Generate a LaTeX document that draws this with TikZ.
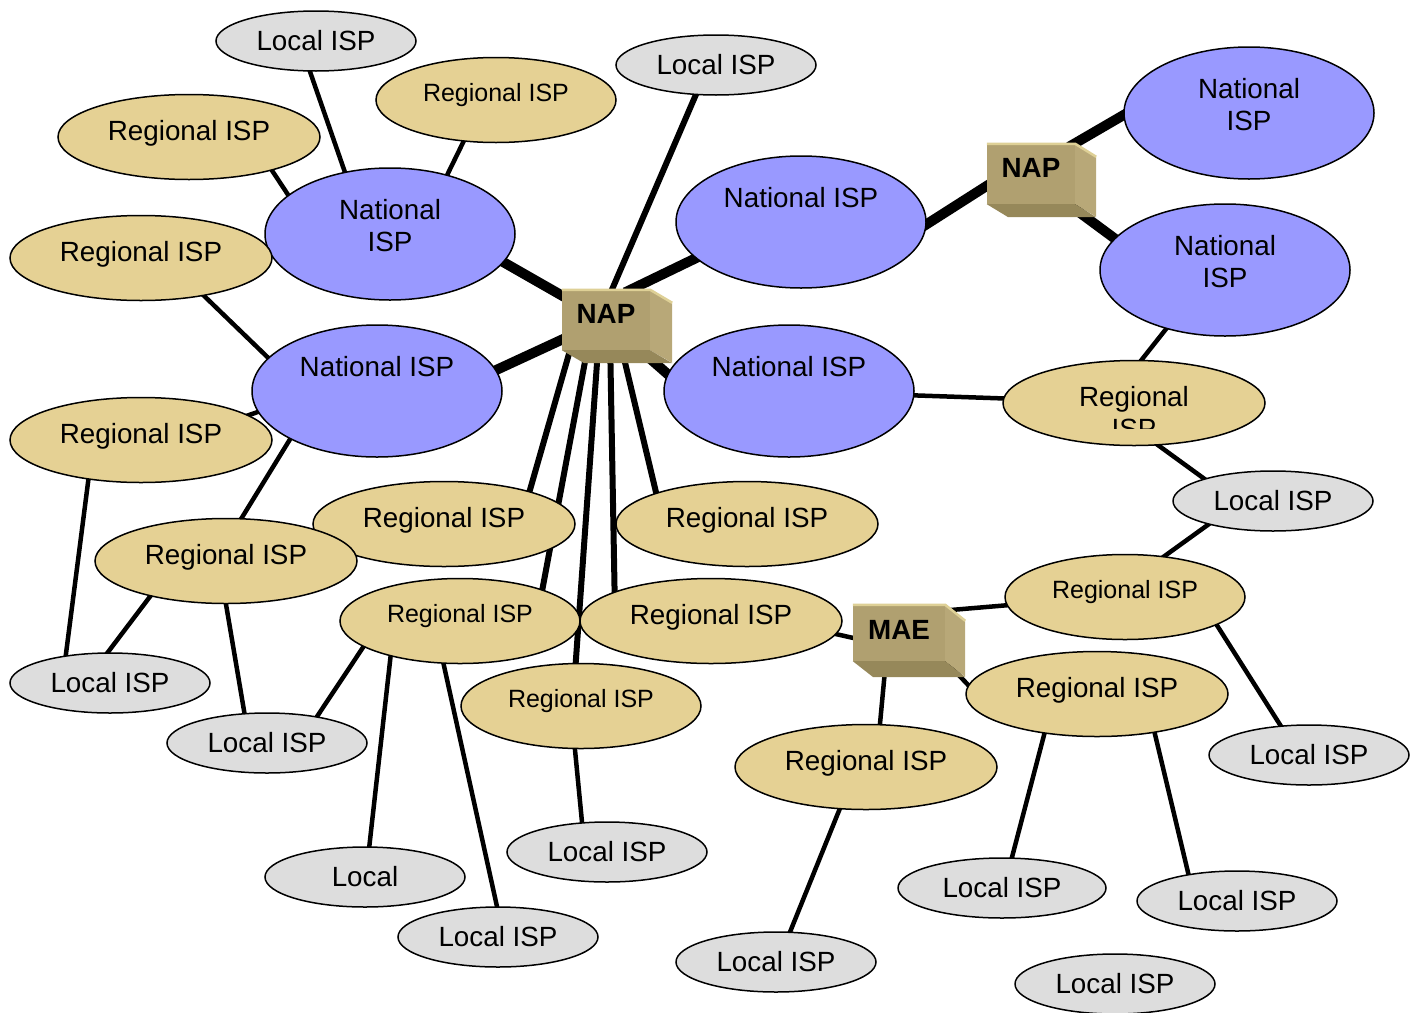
\documentclass[tikz,border=0pt]{standalone}
\usepackage{fontspec}
\setmainfont{Liberation Sans}
\usetikzlibrary{shapes.geometric,positioning,calc}
\usepackage{xcolor}

\definecolor{natblue}{RGB}{153,153,255}
\definecolor{regtan}{RGB}{229,209,148}
\definecolor{locgrey}{RGB}{221,221,221}
\definecolor{hubfront}{RGB}{176,160,112}
\definecolor{hubside}{RGB}{184,168,120}
\definecolor{hubbottom}{RGB}{150,136,90}
\definecolor{hubtop}{RGB}{222,208,150}

\pgfdeclarelayer{background}
\pgfsetlayers{background,main}

% raise a label without changing its box
\newcommand{\lift}[2]{\raisebox{#1}[\height][\depth]{#2}}

\begin{document}
\begin{tikzpicture}[x=1pt,y=-1pt,
    isp/.style={ellipse,draw=black,line width=1.5pt,inner sep=0pt,font=\fontsize{27.8}{32}\selectfont},
    natisp/.style={isp,fill=natblue,minimum width=250pt,minimum height=132pt},
    regisp/.style={isp,fill=regtan,minimum width=262pt,minimum height=85pt},
    regsmall/.style={regisp,minimum width=240pt,font=\fontsize{25}{29}\selectfont},
    locisp/.style={isp,fill=locgrey,minimum width=200pt,minimum height=60pt},
    hub/.style={rectangle,fill=hubfront,minimum width=88pt,minimum height=60pt,inner sep=0pt,font=\bfseries\fontsize{27.8}{32}\selectfont},
    backbone/.style={line width=10pt,shorten <=-6pt,shorten >=-6pt},
    spoke/.style={line width=6pt,shorten <=-4pt,shorten >=-4pt},
    link/.style={line width=4.5pt,shorten <=-4pt,shorten >=-4pt}]

    \useasboundingbox (0,0) rectangle (1421,1012);

    % national ISPs
    \node[natisp] (n1) at (390,234) {\lift{5pt}{\begin{tabular}{@{}c@{}}National\\ISP\end{tabular}}};
    \node[natisp] (n2) at (377,391) {\lift{24pt}{National ISP}};
    \node[natisp] (n3) at (801,222) {\lift{24pt}{National ISP}};
    \node[natisp] (n4) at (789,391) {\lift{24pt}{National ISP}};
    \node[natisp] (n5) at (1249,113) {\lift{5pt}{\begin{tabular}{@{}c@{}}National\\ISP\end{tabular}}};
    \node[natisp] (n6) at (1225,270) {\lift{5pt}{\begin{tabular}{@{}c@{}}National\\ISP\end{tabular}}};

    % regional ISPs
    \node[regisp] (r1) at (189,137) {\lift{4pt}{Regional ISP}};
    \node[regsmall] (r2) at (496,100) {\lift{5pt}{Regional ISP}};
    \node[regisp] (r3) at (141,258) {\lift{4pt}{Regional ISP}};
    \node[regisp] (r4) at (141,440) {\lift{4pt}{Regional ISP}};
    \node[regisp] (r5) at (444,524) {\lift{4pt}{Regional ISP}};
    \node[regisp] (r6) at (226,561) {\lift{4pt}{Regional ISP}};
    \node[regisp] (r7) at (747,524) {\lift{4pt}{Regional ISP}};
    \node[regsmall] (r8) at (460,621) {\lift{5pt}{Regional ISP}};
    \node[regisp] (r9) at (711,621) {\lift{4pt}{Regional ISP}};
    \node[regsmall] (r10) at (581,706) {\lift{5pt}{Regional ISP}};
    \node[regisp] (r11) at (1134,403) {};
    \begin{scope}
        \clip (1000,355) rectangle (1270,428);
        \node[isp,draw=none] (r11txt) at (r11) {\lift{-13.5pt}{\begin{tabular}{@{}c@{}}Regional\\ISP\end{tabular}}};
    \end{scope}
    \node[regsmall] (r12) at (1125,597) {\lift{5pt}{Regional ISP}};
    \node[regisp] (r13) at (1097,694) {\lift{4pt}{Regional ISP}};
    \node[regisp] (r14) at (866,767) {\lift{4pt}{Regional ISP}};

    % local ISPs
    \node[locisp] (l1) at (316,41) {Local ISP};
    \node[locisp] (l2) at (716,65) {Local ISP};
    \node[locisp] (l3) at (1273,501) {Local ISP};
    \node[locisp] (l4) at (110,683) {Local ISP};
    \node[locisp] (l5) at (267,743) {Local ISP};
    \node[locisp] (l6) at (607,852) {Local ISP};
    \node[locisp] (l7) at (365,877) {Local};
    \node[locisp] (l8) at (498,937) {Local ISP};
    \node[locisp] (l9) at (776,962) {Local ISP};
    \node[locisp,minimum width=208pt] (l10) at (1002,888) {Local ISP};
    \node[locisp] (l11) at (1237,901) {Local ISP};
    \node[locisp] (l12) at (1309,755) {Local ISP};
    \node[locisp] (l13) at (1115,984) {Local ISP};

    % exchange boxes
    \node[hub] (nap1) at (606,320) {\lift{6pt}{NAP}};
    \fill[hubside] (nap1.north east) -- ++(22,13) -- ++(0,60) -- (nap1.south east) -- cycle;
    \fill[hubbottom] (nap1.south west) -- (nap1.south east) -- ++(22,13) -- ++(-88,0) -- cycle;
    \draw[hubtop,line width=2.5pt] (nap1.north west) -- (nap1.north east) -- ++(22,13);
    \node[hub] (nap2) at (1031,174) {\lift{6pt}{NAP}};
    \fill[hubside] (nap2.north east) -- ++(21,13) -- ++(0,60) -- (nap2.south east) -- cycle;
    \fill[hubbottom] (nap2.south west) -- (nap2.south east) -- ++(21,13) -- ++(-88,0) -- cycle;
    \draw[hubtop,line width=2.5pt] (nap2.north west) -- (nap2.north east) -- ++(21,13);
    \node[hub,minimum width=92pt,minimum height=56pt] (mae) at (899,633) {\lift{3pt}{MAE}};
    \fill[hubside] (mae.north east) -- ++(20,16) -- ++(0,56) -- (mae.south east) -- cycle;
    \fill[hubbottom] (mae.south west) -- (mae.south east) -- ++(20,16) -- ++(-92,0) -- cycle;
    \draw[hubtop,line width=2.5pt] (mae.north west) -- (mae.north east) -- ++(20,16);

    \begin{pgfonlayer}{background}
        % backbone links
        \draw[backbone] (n1.346) -- (nap1.151);
        \draw[backbone] (n2.10) -- (nap1.204);
        \draw[backbone] (n3.199) -- (nap1.51);
        \draw[backbone] (n4.172) -- (nap1.center);
        \draw[backbone] (n3.359) -- (nap2.195);
        \draw[backbone] (nap2.35) -- (n5.181);
        \draw[backbone] (nap2.321) -- (n6.164);
        % spokes out of the NAP
        \draw[spoke] (nap1.79) -- (l2.236);
        \draw[spoke] (nap1.220) -- (r5.21);
        \draw[spoke] (nap1.238) -- (r8.21);
        \draw[spoke] (nap1.255) -- (r10.97);
        \draw[spoke] (nap1.278) -- (r9.163);
        \draw[spoke] (nap1.298) -- (r7.161);
        % other links
        \draw[link] (l1.259) -- (n1.126);
        \draw[link] (r2.232) -- (n1.46);
        \draw[link] (r1.338) -- (n1.159);
        \draw[link] (r3.329) -- (n2.163);
        \draw[link] (r4.13) -- (n2.190);
        \draw[link] (n2.209) -- (r6.70);
        \draw[link] (r4.217) -- (l4.148);
        \draw[link] (r6.205) -- (l4.94);
        \draw[link] (r6.270) -- (l5.127);
        \draw[link] (r8.195) -- (l5.28);
        \draw[link] (r8.207) -- (l7.82);
        \draw[link] (r8.249) -- (l8.92);
        \draw[link] (r10.262) -- (l6.130);
        \draw[link] (n4.358) -- (r11.178);
        \draw[link] (n6.225) -- (r11.80);
        \draw[link] (r11.300) -- (l3.162);
        \draw[link] (l3.200) -- (r12.46);
        \draw[link] (mae.26) -- (r12.184);
        \draw[link] (r9.354) -- (mae.186);
        \draw[link] (mae.329) -- (r13.176);
        \draw[link] (mae.245) -- (r14.72);
        \draw[link] (r12.343) -- (l12.134);
        \draw[link] (r13.217) -- (l10.72);
        \draw[link] (r13.326) -- (l11.151);
        \draw[link] (r14.238) -- (l9.65);
    \end{pgfonlayer}
\end{tikzpicture}
\end{document}
